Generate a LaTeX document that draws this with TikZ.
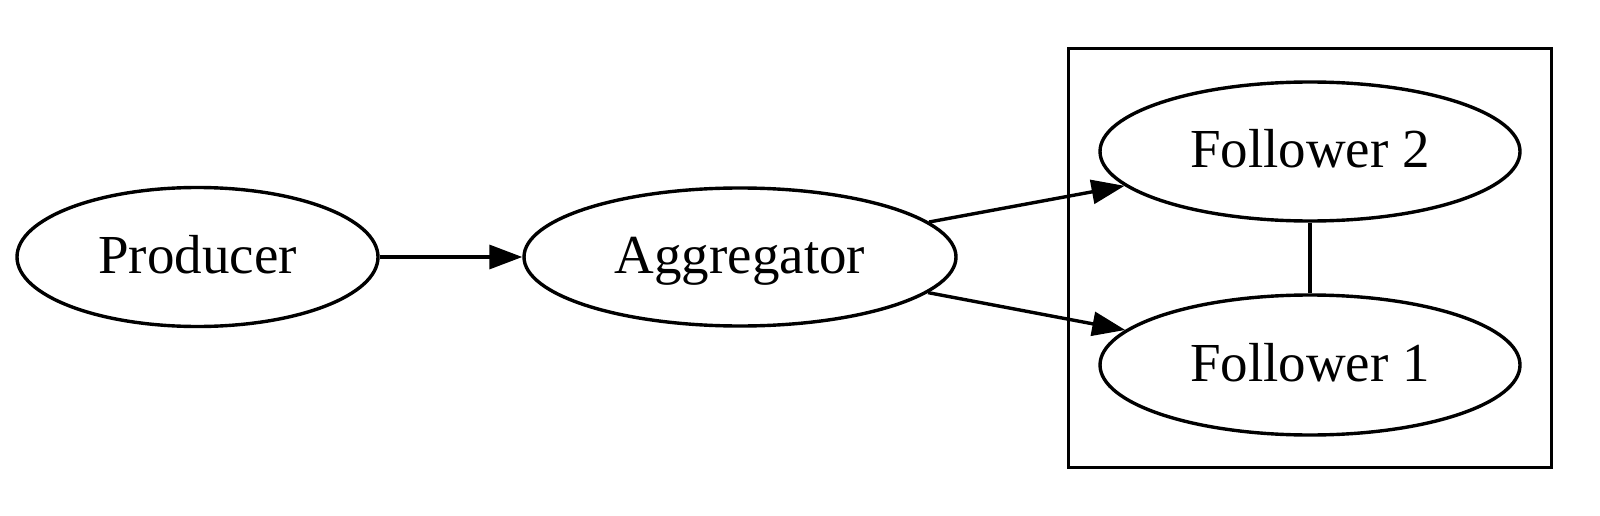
\documentclass[tikz,border=0pt]{standalone}
\usepackage{fontspec}
\setmainfont{Liberation Serif}
\usetikzlibrary{shapes.geometric,arrows.meta}
\begin{document}
\begin{tikzpicture}[x=1pt,y=-1pt,line width=3.4pt,
  gnode/.style={draw,ellipse,inner sep=0pt,font=\fontsize{55}{66}\selectfont,text height=40pt,text depth=8pt},
  garrow/.style={-{Triangle[length=33pt,width=24pt]}},
  clusterbox/.style={draw,rectangle,inner sep=0pt,minimum width=483pt,minimum height=419pt}]
\useasboundingbox (0,0) rectangle (1600,516);
\node[clusterbox] (cluster) at (1310,258) {};
\node[gnode,minimum width=361pt,minimum height=139pt] (prod) at (197.5,257) {Producer};
\node[gnode,minimum width=432pt,minimum height=138pt] (agg) at (740,257) {Aggregator};
\node[gnode,minimum width=420pt,minimum height=139pt] (f2) at (1310,151.5) {Follower 2};
\node[gnode,minimum width=420pt,minimum height=140pt] (f1) at (1310,365) {Follower 1};
\draw[garrow] (prod) -- (agg);
\draw[garrow] (agg) -- (f2);
\draw[garrow] (agg) -- (f1);
\draw (f2) -- (f1);
\end{tikzpicture}
\end{document}
